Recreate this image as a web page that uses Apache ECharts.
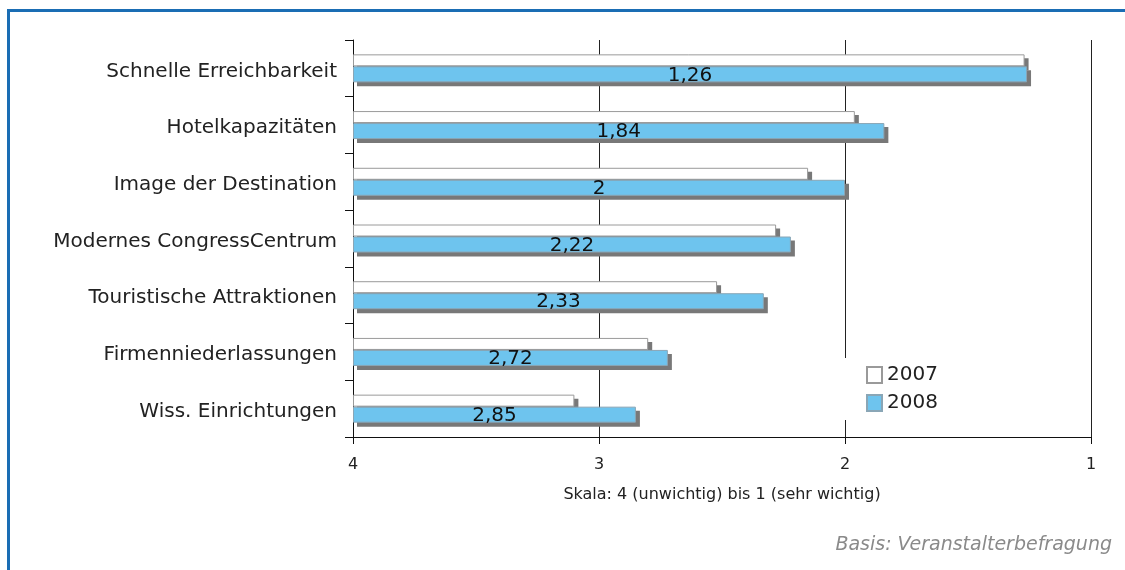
<!DOCTYPE html>
<html>
<head>
<meta charset="utf-8">
<script src="https://cdn.jsdelivr.net/npm/echarts@6/dist/echarts.min.js"></script>
<style>
  html, body { margin: 0; padding: 0; background: #fff; }
  #chart { width: 1125px; height: 570px; }
</style>
</head>
<body>
<div id="chart"></div>
<script>
// Scale: 4 (unwichtig) .. 1 (sehr wichtig)
const categories = [
  "Schnelle Erreichbarkeit",
  "Hotelkapazitäten",
  "Image der Destination",
  "Modernes CongressCentrum",
  "Touristische Attraktionen",
  "Firmenniederlassungen",
  "Wiss. Einrichtungen"
];
const values2007 = [1.27, 1.96, 2.15, 2.28, 2.52, 2.80, 3.10];
const values2008 = [1.26, 1.84, 2, 2.22, 2.33, 2.72, 2.85];
const scaleTicks = [4, 3, 2, 1];

const SCALE_TOP = scaleTicks[0]; // bars grow from 4 towards 1
const font = "DejaVu Sans";

const chart = echarts.init(document.getElementById("chart"));

function toBar(v) {
  return SCALE_TOP - v;
}

// second grid, shifted 4px right/down, only carries the drop shadows
const hiddenValueAxis = {
  type: "value",
  min: 0,
  max: scaleTicks.length - 1,
  show: false,
  gridIndex: 1
};
const hiddenCatAxis = {
  type: "category",
  inverse: true,
  data: categories,
  show: false,
  gridIndex: 1
};

chart.setOption({
  animation: false,
  textStyle: { fontFamily: font },
  grid: [
    { left: 353, right: 34, top: 40, bottom: 133 },
    { left: 357, right: 30, top: 44, bottom: 129 }
  ],
  legend: {
    orient: "vertical",
    left: 840,
    top: 358,
    padding: [7, 10, 7, 26],
    backgroundColor: "#fff",
    icon: "rect",
    itemWidth: 15,
    itemHeight: 16,
    itemGap: 8,
    textStyle: { fontSize: 20, color: "#222", fontFamily: font },
    data: ["2007", "2008"]
  },
  xAxis: [
    {
      type: "value",
      min: 0,
      max: scaleTicks.length - 1,
      interval: 1,
      name: "Skala: 4 (unwichtig) bis 1 (sehr wichtig)",
      nameLocation: "middle",
      nameGap: 50,
      nameTextStyle: { fontSize: 16, color: "#222", fontFamily: font },
      axisLine: { show: true, lineStyle: { color: "#111", width: 1 } },
      axisTick: { show: true, length: 7, lineStyle: { color: "#111" } },
      axisLabel: {
        fontSize: 16,
        color: "#222",
        margin: 20,
        formatter: v => String(SCALE_TOP - v)
      },
      splitLine: { show: true, lineStyle: { color: "#222", width: 1 } }
    },
    hiddenValueAxis
  ],
  yAxis: [
    {
      type: "category",
      inverse: true,
      data: categories,
      axisLine: { show: true, lineStyle: { color: "#111", width: 1 } },
      axisTick: { show: true, length: 8, lineStyle: { color: "#111" } },
      axisLabel: {
        margin: 16,
        formatter: v => "{c|" + v + "}",
        rich: {
          c: { fontSize: 20, color: "#222", fontFamily: font, padding: [6, 0, 0, 0] }
        }
      }
    },
    hiddenCatAxis
  ],
  series: [
    {
      name: "shadow2007",
      type: "bar",
      xAxisIndex: 1,
      yAxisIndex: 1,
      z: 1,
      silent: true,
      barWidth: 12,
      barGap: "0%",
      data: values2007.map(toBar),
      itemStyle: { color: "#787878" }
    },
    {
      name: "shadow2008",
      type: "bar",
      xAxisIndex: 1,
      yAxisIndex: 1,
      z: 1,
      silent: true,
      barWidth: 16,
      barGap: "0%",
      data: values2008.map(toBar),
      itemStyle: { color: "#787878" }
    },
    {
      name: "2007",
      type: "bar",
      z: 2,
      barWidth: 12,
      barGap: "0%",
      data: values2007.map(toBar),
      itemStyle: {
        color: "#fff",
        borderColor: "#9a9a9a",
        borderWidth: 1
      }
    },
    {
      name: "2008",
      type: "bar",
      z: 3,
      barWidth: 16,
      barGap: "0%",
      data: values2008.map(toBar),
      itemStyle: {
        color: "#6ec4ee",
        borderColor: "#8aa6b6",
        borderWidth: 1
      },
      label: {
        show: true,
        position: "inside",
        offset: [0, 1],
        color: "#111",
        fontSize: 20,
        fontFamily: font,
        formatter: p => String(values2008[p.dataIndex]).replace(".", ",")
      }
    }
  ],
  graphic: [
    {
      type: "rect",
      silent: true,
      shape: { x: 8.5, y: 10.5, width: 1300, height: 800 },
      style: { fill: "none", stroke: "#1a6db4", lineWidth: 3 }
    },
    {
      type: "text",
      right: 13,
      top: 536,
      style: {
        text: "Basis: Veranstalterbefragung",
        font: "italic 19px 'DejaVu Sans'",
        fill: "#8a8a8a"
      }
    }
  ]
});
</script>
</body>
</html>
